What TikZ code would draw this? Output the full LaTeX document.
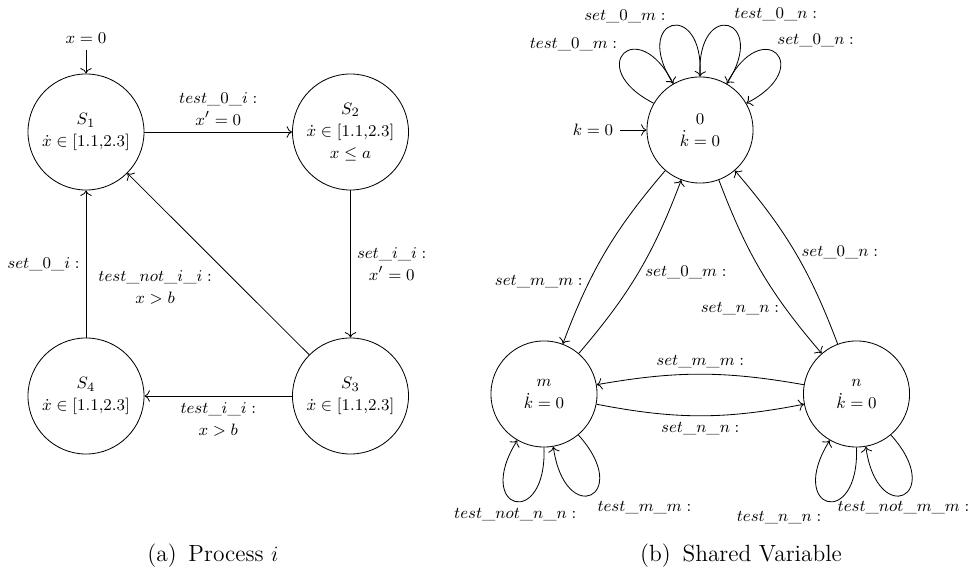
\documentclass[tikz,border=0pt]{standalone}
\usetikzlibrary{arrows.meta}
\begin{document}
\begin{tikzpicture}[x=0.5464pt,y=0.5464pt,
  >={To[scale=1.15]}, line width=0.45pt,
  every node/.style={font=\fontsize{9.4}{12}\selectfont},
  bigstate/.style={circle,draw,minimum size=63.4pt,inner sep=0pt,align=center},
  smallstate/.style={circle,draw,minimum size=58pt,inner sep=0pt,align=center},
  lbl/.style={align=center},
  caption/.style={font=\fontsize{12.8}{15}\selectfont}]
\useasboundingbox (0,0) rectangle (973,-579);

% ---------- (a) Process i ----------
\node[bigstate] (S1) at (86,-132)    {$S_1$\\$\dot{x}\in[1.1{,}2.3]$};
\node[bigstate] (S2) at (350.5,-132) {$S_2$\\$\dot{x}\in[1.1{,}2.3]$\\$x\le a$};
\node[bigstate] (S3) at (350.5,-396) {$S_3$\\$\dot{x}\in[1.1{,}2.3]$};
\node[bigstate] (S4) at (86,-396)    {$S_4$\\$\dot{x}\in[1.1{,}2.3]$};
\node (x0) at (86,-38) {$x=0$};

\draw[->] (x0) -- (S1);
\draw[->] (S1) -- node[above,lbl] {$test\_0\_i:$\\$x'=0$} (S2);
\draw[->] (S2) -- node[right,lbl] {$set\_i\_i:$\\$x'=0$} (S3);
\draw[->] (S3) -- node[below,lbl] {$test\_i\_i:$\\$x>b$} (S4);
\draw[->] (S4) -- node[left] {$set\_0\_i:$} (S1);
\draw[->] (S3) -- node[below left,lbl] {$test\_not\_i\_i:$\\$x>b$} (S1);

% ---------- (b) Shared Variable ----------
\node[smallstate] (zero) at (700,-130)  {$0$\\$\dot{k}=0$};
\node[smallstate] (m)    at (544,-394)  {$m$\\$\dot{k}=0$};
\node[smallstate] (n)    at (856.5,-394){$n$\\$\dot{k}=0$};
\node (k0) at (593,-130) {$k=0$};

\draw[->] (k0) -- (zero);

% transitions between the values
\draw[->] (zero) to[bend right=10] node[pos=0.68,left] {$set\_m\_m:$} (m);
\draw[->] (m) to[bend right=10] node[pos=0.5,right] {$set\_0\_m:$} (zero);
\draw[->] (zero) to[bend right=10] node[pos=0.73,left] {$set\_n\_n:$} (n);
\draw[->] (n) to[bend right=10] node[pos=0.5,right] {$set\_0\_n:$} (zero);
\draw[->] (m) to[bend right=11] node[below] {$set\_n\_n:$} (n);
\draw[->] (n) to[bend right=10] node[above] {$set\_m\_m:$} (m);

% self loops on 0
\draw[->] (zero.150) .. controls +(153:79) and +(117:79) .. (zero.120)
  node[pos=0.5,above left,yshift=-2pt] {$test\_0\_m:$};
\draw[->] (zero.120) .. controls +(123:79) and +(87:79) .. (zero.90)
  node[pos=0.5,above left,yshift=-2pt] {$set\_0\_m:$};
\draw[->] (zero.90) .. controls +(93:79) and +(57:79) .. (zero.60)
  node[pos=0.5,above right,yshift=-1pt] {$test\_0\_n:$};
\draw[->] (zero.60) .. controls +(63:79) and +(27:79) .. (zero.30)
  node[pos=0.5,above right,xshift=-3pt] {$set\_0\_n:$};

% self loops on m
\draw[->] (m.270) .. controls +(272:83) and +(238:83) .. (m.240)
  node[pos=0.5,below] {$test\_not\_n\_n:$};
\draw[->] (m.310) .. controls +(312:83) and +(278:83) .. (m.280)
  node[pos=0.5,below right] {$test\_m\_m:$};

% self loops on n
\draw[->] (n.270) .. controls +(272:83) and +(238:83) .. (n.240)
  node[pos=0.5,below left,yshift=-2pt] {$test\_n\_n:$};
\draw[->] (n.310) .. controls +(312:83) and +(278:83) .. (n.280)
  node[pos=0.5,below] {$test\_not\_m\_m:$};

% captions
\node[caption] (capa) at (213,-556) {(a)\hspace{0.5em}Process $i$};
\node[caption] (capb) at (741,-556) {(b)\hspace{0.5em}Shared Variable};
\end{tikzpicture}
\end{document}
